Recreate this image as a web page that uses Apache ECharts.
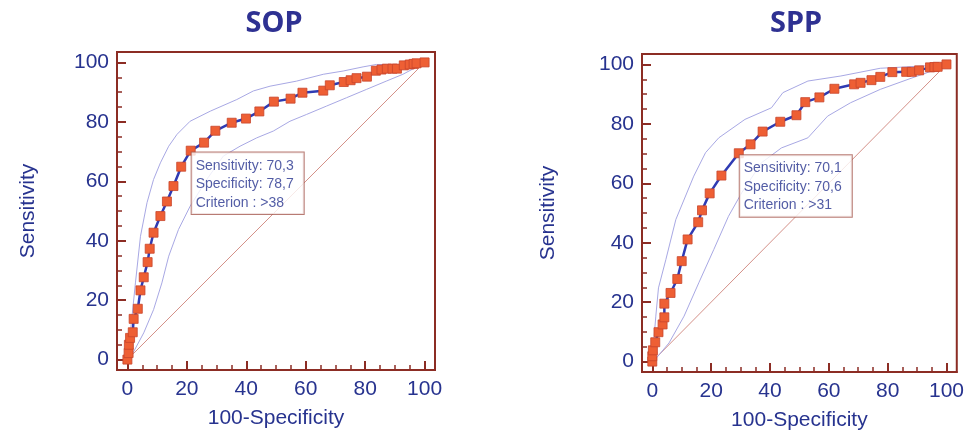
<!DOCTYPE html>
<html>
<head>
<meta charset="utf-8">
<script src="https://cdn.jsdelivr.net/npm/echarts@6/dist/echarts.min.js"></script>
<style>
html,body{margin:0;padding:0;background:#fff;}
#chart{width:967px;height:437px;}
</style>
</head>
<body>
<div id="chart"></div>
<script>
// ---------- data ----------
const chartTitles = ['SOP', 'SPP'];
const xAxisName = '100-Specificity';
const yAxisName = 'Sensitivity';
const majorTicks = [0, 20, 40, 60, 80, 100];
const minorTicks = [0, 5, 10, 15, 20, 25, 30, 35, 40, 45, 50, 55, 60, 65, 70, 75, 80, 85, 90, 95, 100];

// SOP ROC curve (100-Specificity, Sensitivity)
const sopRocX = [0, 0.4, 0.5, 0.9, 1.8, 2.1, 3.5, 4.4, 5.5, 6.8, 7.5, 8.8, 11.1, 13.3, 15.5, 18.1, 21.3, 25.8, 29.6, 35.1, 39.9, 44.4, 49.3, 54.9, 58.9, 65.9, 68.1, 72.8, 75.1, 77.1, 80.6, 83.6, 85.5, 87.3, 89.2, 90.7, 93.0, 95.0, 96.3, 97.3, 100];
const sopRocY = [0, 2.2, 5.0, 7.3, 9.2, 13.7, 17.1, 23.3, 27.7, 32.8, 37.3, 42.7, 48.3, 53.2, 58.4, 64.9, 70.3, 73.0, 77.0, 79.7, 81.1, 83.5, 86.8, 87.8, 89.8, 90.5, 92.3, 93.4, 94.0, 94.7, 95.2, 97.2, 97.6, 97.9, 97.9, 97.9, 99.0, 99.3, 99.5, 99.7, 100];
const sopUpperX = [0, 1.0, 2.7, 4.4, 6.6, 8.8, 11.1, 13.9, 16.7, 21.1, 27.9, 36.8, 42.4, 48.0, 56.9, 65.9, 72.6, 79.3, 83.8, 91.6, 100];
const sopUpperY = [0.6, 9.0, 25.8, 41.5, 52.8, 60.6, 66.2, 71.8, 75.8, 80.2, 83.6, 87.5, 90.4, 92.0, 93.7, 96.0, 97.1, 98.5, 99.3, 99.3, 100];
const sopLowerX = [1.0, 5.5, 8.8, 11.6, 13.9, 17.2, 21.1, 26.7, 32.3, 37.9, 43.5, 49.1, 54.7, 60.3, 67.0, 73.7, 80.4, 87.1, 92.7, 100];
const sopLowerY = [0.6, 9.0, 16.8, 25.8, 34.8, 43.8, 51.6, 60.6, 68.5, 71.8, 74.6, 76.9, 80.2, 82.5, 85.3, 88.1, 90.9, 93.7, 96.0, 99.9];
const sopCut = { sens: 70.3, spec: 78.7, criterion: '>38' };

// SPP ROC curve
const sppRocX = [0, 0, 0.2, 1.0, 2.1, 3.5, 4.1, 4.1, 6.2, 8.5, 10.0, 12.0, 15.6, 16.9, 19.5, 23.5, 29.4, 33.4, 37.5, 43.5, 49.0, 52.0, 56.8, 61.9, 68.6, 70.8, 74.5, 77.5, 81.6, 86.3, 88.2, 90.7, 94.4, 95.9, 97.0, 100];
const sppRocY = [0, 1.8, 3.8, 6.5, 9.9, 12.5, 14.9, 19.5, 23.1, 27.8, 33.8, 41.1, 46.9, 50.9, 56.6, 62.6, 70.1, 73.1, 77.4, 80.7, 82.9, 87.3, 88.9, 91.8, 93.3, 93.8, 94.7, 95.8, 97.4, 97.5, 97.5, 98.0, 99.0, 99.1, 99.2, 100];
const sppUpperX = [0, 1.2, 2.1, 4.6, 8.0, 14.1, 18.1, 22.6, 31.5, 40.5, 44.4, 52.9, 64.1, 77.5, 91.0, 100];
const sppUpperY = [0.7, 15.3, 24.8, 34.3, 47.8, 62.4, 70.3, 75.3, 81.5, 85.4, 90.5, 94.4, 96.1, 98.7, 99.4, 100];
const sppLowerX = [0.7, 5.7, 10.8, 15.8, 20.9, 25.9, 30.4, 37.1, 43.9, 52.9, 59.6, 67.4, 77.5, 87.6, 100];
const sppLowerY = [0.4, 6.3, 15.3, 26.5, 37.7, 48.9, 56.8, 66.9, 71.9, 75.3, 82.6, 87.1, 91.6, 95.2, 99.5];
const sppCut = { sens: 70.1, spec: 70.6, criterion: '>31' };

const diagX = [0, 100];
const diagY = [0, 100];

// ---------- styling ----------
const FRAME = '#8c2d24';
const BLUE_TXT = '#27338f';
const TITLE_C = '#2e3192';
const CURVE = '#2f3bb3';
const MARK = '#ee5f34';
const MARK_B = '#c8452c';
const BAND = '#a8a8e4';
const DIAG = '#d49088';
const FONT = '"Liberation Sans", Arial, sans-serif';
const TITLE_FONT = '"Noto Sans", "Open Sans", sans-serif';

const pairs = (xs, ys) => xs.map((x, i) => [x, ys[i]]);
const fmt = v => String(v).replace('.', ',');

const grids = [
  { left: 117, width: 318, top: 52, height: 318, titleX: 269, nameGap: 78 },
  { left: 642, width: 318, top: 54, height: 318, titleX: 791, nameGap: 83 }
];
const datasets = [
  { roc: pairs(sopRocX, sopRocY), up: pairs(sopUpperX, sopUpperY), lo: pairs(sopLowerX, sopLowerY), cut: sopCut },
  { roc: pairs(sppRocX, sppRocY), up: pairs(sppUpperX, sppUpperY), lo: pairs(sppLowerX, sppLowerY), cut: sppCut }
];

const option = { animation: false, title: [], grid: [], xAxis: [], yAxis: [], series: [] };

grids.forEach((g, i) => {
  option.title.push({
    text: chartTitles[i], left: g.titleX, top: 4, textAlign: 'center',
    textStyle: { fontFamily: TITLE_FONT, fontWeight: 'bold', fontSize: 29, color: TITLE_C }
  });
  option.grid.push({
    left: g.left, top: g.top, width: g.width, height: g.height,
    show: true, borderColor: FRAME, borderWidth: 2, backgroundColor: '#fff'
  });
  const common = { gridIndex: i, type: 'value', min: -3.5, max: 103.5, splitLine: { show: false } };
  option.xAxis.push(Object.assign({}, common, {
    position: 'bottom',
    name: xAxisName, nameLocation: 'middle', nameGap: 38,
    nameTextStyle: { fontFamily: FONT, fontSize: 21, color: BLUE_TXT },
    axisLine: { onZero: false, lineStyle: { color: FRAME, width: 2 } },
    axisTick: { inside: true, length: 9, customValues: majorTicks, lineStyle: { color: FRAME, width: 2 } },
    axisLabel: { customValues: majorTicks, margin: 9, fontFamily: FONT, fontSize: 21, color: BLUE_TXT }
  }));
  option.xAxis.push(Object.assign({}, common, {
    position: 'bottom',
    axisLine: { show: false, onZero: false },
    axisTick: { inside: true, length: 5, customValues: minorTicks, lineStyle: { color: FRAME, width: 1.5 } },
    axisLabel: { show: false }
  }));
  option.yAxis.push(Object.assign({}, common, {
    position: 'left',
    name: yAxisName, nameLocation: 'middle', nameGap: g.nameGap, nameRotate: 90,
    nameTextStyle: { fontFamily: FONT, fontSize: 21, color: BLUE_TXT },
    axisLine: { onZero: false, lineStyle: { color: FRAME, width: 2 } },
    axisTick: { inside: true, length: 9, customValues: majorTicks, lineStyle: { color: FRAME, width: 2 } },
    axisLabel: { customValues: majorTicks, margin: 8, fontFamily: FONT, fontSize: 21, color: BLUE_TXT }
  }));
  option.yAxis.push(Object.assign({}, common, {
    position: 'left',
    axisLine: { show: false, onZero: false },
    axisTick: { inside: true, length: 5, customValues: minorTicks, lineStyle: { color: FRAME, width: 1.5 } },
    axisLabel: { show: false }
  }));

  const ax = { xAxisIndex: 2 * i, yAxisIndex: 2 * i };
  const d = datasets[i];
  option.series.push(Object.assign({}, ax, {
    type: 'line', data: pairs(diagX, diagY), symbol: 'none', silent: true, z: 1,
    lineStyle: { color: DIAG, width: 1 }
  }));
  option.series.push(Object.assign({}, ax, {
    type: 'line', data: d.up, symbol: 'none', silent: true, z: 1,
    lineStyle: { color: BAND, width: 1 }
  }));
  option.series.push(Object.assign({}, ax, {
    type: 'line', data: d.lo, symbol: 'none', silent: true, z: 1,
    lineStyle: { color: BAND, width: 1 }
  }));
  option.series.push(Object.assign({}, ax, {
    type: 'line', data: d.roc, symbol: 'rect', symbolSize: 9, showAllSymbol: true, z: 3,
    lineStyle: { color: CURVE, width: 2.5 },
    itemStyle: { color: MARK, borderColor: MARK_B, borderWidth: 0.8 }
  }));
  const c = d.cut;
  option.series.push(Object.assign({}, ax, {
    type: 'scatter', z: 10, symbolSize: 0.1,
    itemStyle: { color: 'rgba(0,0,0,0)' },
    data: [[Math.round((100 - c.spec) * 10) / 10, c.sens]],
    label: {
      show: true, position: [1, 2],
      formatter: 'Sensitivity: ' + fmt(c.sens) + '\nSpecificity: ' + fmt(c.spec) + '\nCriterion : ' + c.criterion,
      fontFamily: FONT, fontSize: 14, lineHeight: 18.5, color: BLUE_TXT,
      backgroundColor: '#fff', borderColor: '#a65a50', borderWidth: 1,
      padding: [4, 10, 2, 4], align: 'left', verticalAlign: 'top'
    }
  }));
});

const chart = echarts.init(document.getElementById('chart'), null, { renderer: 'canvas' });
chart.setOption(option);
</script>
</body>
</html>
